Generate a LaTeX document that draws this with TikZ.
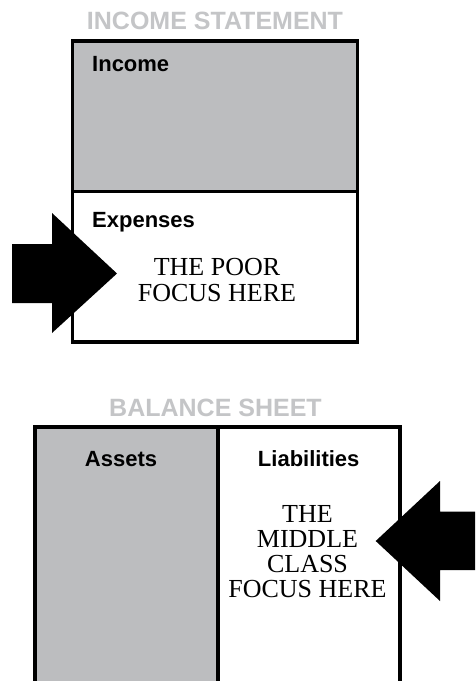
\documentclass[tikz,border=0pt]{standalone}
\usepackage{fontspec}
\setmainfont{Liberation Serif}
\setsansfont{Liberation Sans}
\definecolor{boxgray}{RGB}{188,189,191}
\definecolor{titlegray}{RGB}{196,197,199}
\begin{document}
\begin{tikzpicture}[x=1pt,y=-1pt,
  sheettitle/.style={font=\sffamily\bfseries\fontsize{25}{25}\selectfont, text=titlegray, anchor=base, inner sep=0pt},
  boxlabel/.style={font=\sffamily\bfseries\fontsize{22}{22}\selectfont, anchor=base, inner sep=0pt},
  focus/.style={font=\fontsize{26}{26}\selectfont, align=center, anchor=south, inner sep=0pt},
  frame/.style={line width=3.5pt, draw=black},
  bigarrow/.style={fill=black}]
\useasboundingbox (0,0) rectangle (475,681);
\clip (0,0) rectangle (475,681);
\fill[white] (0,0) rectangle (475,681);
% income statement
\fill[boxgray] (72.5,40.8) rectangle (357.5,191.5);
\draw[frame] (72.5,40.8) rectangle (357.5,342);
\draw[frame] (72.5,191.5) -- (357.5,191.5);
\node[sheettitle] (ist) at (215,29.3) {INCOME STATEMENT};
\node[boxlabel, anchor=base west] (inc) at (92,71) {Income};
\node[boxlabel, anchor=base west] (exp) at (92,227) {Expenses};
\node[focus] (poor) at (217,302) {THE POOR\\FOCUS HERE};
\fill[bigarrow] (12,244) -- (52,244) -- (52,213) -- (117,273.5) -- (52,333) -- (52,303) -- (12,303) -- cycle;
% balance sheet
\fill[boxgray] (35,427) rectangle (218,700);
\draw[frame, line width=4pt] (35,700) -- (35,427) -- (399.5,427) -- (399.5,700);
\draw[frame, line width=4pt] (218,427) -- (218,700);
\node[sheettitle] (bst) at (215.5,416) {BALANCE SHEET};
\node[boxlabel] (ast) at (121,466) {Assets};
\node[boxlabel] (lia) at (308.7,466) {Liabilities};
\node[focus, font=\fontsize{26}{25.1}\selectfont] (mid) at (307.5,598) {THE\\MIDDLE\\CLASS\\FOCUS HERE};
\fill[bigarrow] (476,511.7) -- (440,511.7) -- (440,481) -- (375.7,541) -- (440,601) -- (440,570) -- (476,570) -- cycle;
\end{tikzpicture}
\end{document}
